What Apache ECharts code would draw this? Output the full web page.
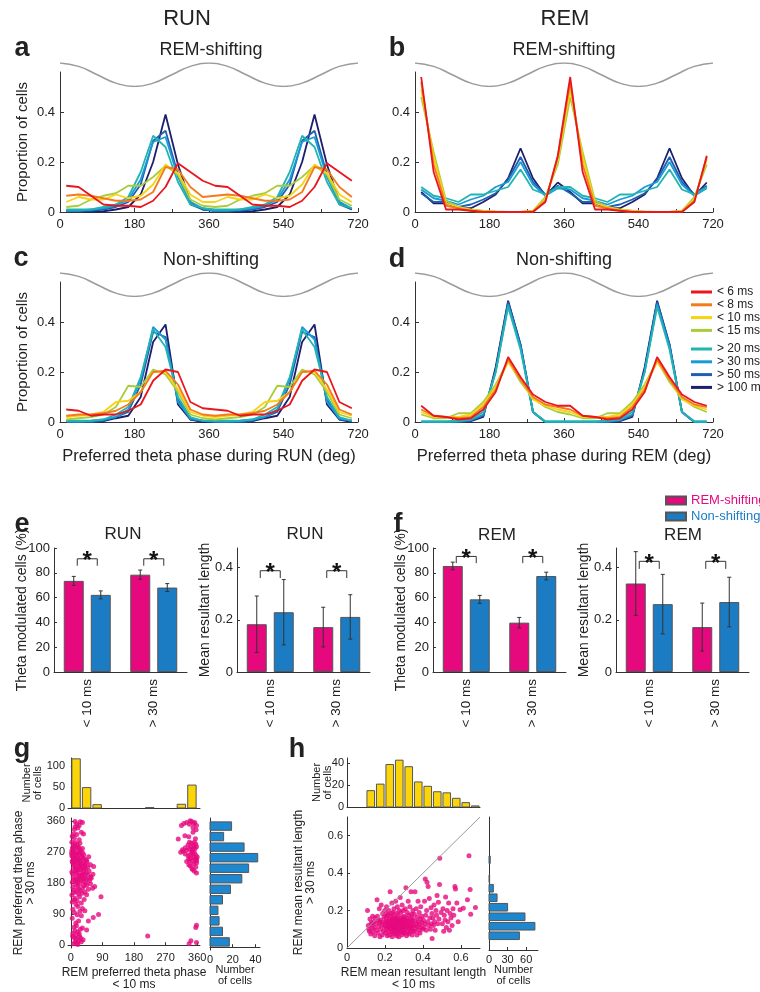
<!DOCTYPE html>
<html>
<head>
<meta charset="utf-8">
<script src="https://cdn.jsdelivr.net/npm/echarts@6/dist/echarts.min.js"></script>
<style>
html, body { margin: 0; padding: 0; background: #fff; }
#chart { width: 760px; height: 992px; }
</style>
</head>
<body>
<div id="chart"></div>
<script>
const FONT = "'Liberation Sans', Arial, Helvetica, sans-serif";
const INK = '#222';
const AXIS = '#333';
const PINK = '#e6097e';
const BLUE = '#1b7cc4';
const YELLOW = '#fcd40a';
const HISTBLUE = '#1d87d0';

// ---- panels a-d : preferred theta phase histograms ----
const phaseBins = [15, 45, 75, 105, 135, 165, 195, 225, 255, 285, 315, 345,
  375, 405, 435, 465, 495, 525, 555, 585, 615, 645, 675, 705];
// reference theta wave (peak at 0/360/720)
const thetaPhase = [0, 45, 90, 135, 180, 225, 270, 315, 360, 405, 450, 495, 540, 585, 630, 675, 720];
const thetaWave = [1, 0.71, 0, -0.71, -1, -0.71, 0, 0.71, 1, 0.71, 0, -0.71, -1, -0.71, 0, 0.71, 1];
const speedLabels = ['< 6 ms', '< 8 ms', '< 10 ms', '< 15 ms', '> 20 ms', '> 30 ms', '> 50 ms', '> 100 ms'];
const speedColors = ['#e8161d', '#f47a20', '#f8d313', '#a9cd3a', '#22b5b0', '#1a9bd8', '#1f5eb1', '#1c1f6b'];

// one row per speed class, one value per 30 deg bin (15..345), shown over two cycles
const runShifting = [
  [0.105, 0.10, 0.065, 0.03, 0.025, 0.025, 0.02, 0.045, 0.10, 0.195, 0.16, 0.125],
  [0.065, 0.07, 0.065, 0.055, 0.045, 0.045, 0.05, 0.08, 0.18, 0.17, 0.10, 0.06],
  [0.04, 0.06, 0.05, 0.05, 0.07, 0.055, 0.065, 0.11, 0.19, 0.155, 0.07, 0.04],
  [0.02, 0.025, 0.05, 0.065, 0.075, 0.105, 0.105, 0.14, 0.185, 0.15, 0.05, 0.025],
  [0.01, 0.01, 0.01, 0.02, 0.03, 0.06, 0.16, 0.305, 0.26, 0.12, 0.03, 0.015],
  [0.005, 0.005, 0.01, 0.015, 0.025, 0.05, 0.13, 0.28, 0.30, 0.14, 0.04, 0.015],
  [0.005, 0.005, 0.005, 0.01, 0.02, 0.04, 0.11, 0.285, 0.325, 0.15, 0.03, 0.01],
  [0.005, 0.005, 0, 0.003, 0.01, 0.02, 0.07, 0.20, 0.39, 0.19, 0.04, 0.01]
];
const remShifting = [
  [0.54, 0.16, 0.01, 0.01, 0.005, 0, 0, 0, 0, 0, 0.04, 0.225],
  [0.52, 0.19, 0.025, 0.015, 0.005, 0, 0, 0, 0, 0.002, 0.045, 0.22],
  [0.49, 0.22, 0.035, 0.02, 0.008, 0.003, 0, 0, 0, 0.003, 0.05, 0.21],
  [0.46, 0.24, 0.045, 0.02, 0.01, 0.005, 0.002, 0, 0, 0.005, 0.06, 0.19],
  [0.10, 0.065, 0.055, 0.04, 0.07, 0.07, 0.085, 0.10, 0.17, 0.09, 0.07, 0.10],
  [0.09, 0.055, 0.045, 0.03, 0.05, 0.065, 0.10, 0.12, 0.20, 0.11, 0.065, 0.095],
  [0.075, 0.04, 0.04, 0.02, 0.03, 0.05, 0.075, 0.13, 0.22, 0.12, 0.07, 0.105],
  [0.08, 0.035, 0.035, 0.015, 0.015, 0.04, 0.07, 0.135, 0.255, 0.135, 0.065, 0.118]
];
const runNonShifting = [
  [0.05, 0.045, 0.025, 0.03, 0.03, 0.045, 0.07, 0.165, 0.21, 0.20, 0.08, 0.055],
  [0.025, 0.03, 0.03, 0.035, 0.045, 0.07, 0.12, 0.20, 0.205, 0.15, 0.05, 0.03],
  [0.02, 0.025, 0.03, 0.04, 0.08, 0.085, 0.12, 0.20, 0.20, 0.13, 0.04, 0.025],
  [0.01, 0.015, 0.02, 0.03, 0.06, 0.145, 0.14, 0.21, 0.19, 0.12, 0.03, 0.015],
  [0.005, 0.005, 0.005, 0.01, 0.03, 0.06, 0.18, 0.37, 0.30, 0.10, 0.02, 0.005],
  [0.003, 0.002, 0.005, 0.01, 0.02, 0.05, 0.17, 0.38, 0.33, 0.08, 0.015, 0.005],
  [0, 0, 0, 0.005, 0.02, 0.04, 0.15, 0.36, 0.34, 0.09, 0.01, 0.005],
  [0, 0, 0, 0.003, 0.015, 0.025, 0.10, 0.32, 0.39, 0.07, 0.01, 0]
];
const remNonShifting = [
  [0.065, 0.025, 0.02, 0.01, 0.015, 0.05, 0.12, 0.26, 0.18, 0.11, 0.08, 0.065],
  [0.05, 0.025, 0.02, 0.015, 0.02, 0.06, 0.13, 0.25, 0.17, 0.10, 0.07, 0.06],
  [0.04, 0.02, 0.02, 0.02, 0.03, 0.07, 0.14, 0.24, 0.17, 0.09, 0.065, 0.05],
  [0.03, 0.015, 0.015, 0.035, 0.035, 0.08, 0.15, 0.245, 0.16, 0.095, 0.06, 0.04],
  [0.003, 0.003, 0.003, 0.005, 0.01, 0.04, 0.20, 0.46, 0.29, 0.04, 0.003, 0.003],
  [0, 0, 0, 0.003, 0.008, 0.03, 0.20, 0.47, 0.30, 0.04, 0, 0],
  [0, 0, 0, 0, 0.005, 0.025, 0.21, 0.48, 0.31, 0.04, 0, 0],
  [0, 0, 0, 0, 0.003, 0.02, 0.22, 0.485, 0.31, 0.04, 0, 0]
];

// ---- panels e-f : bar charts ----
const barCategories = ['< 10 ms', '> 30 ms'];
const runPctShift = [73.5, 78.5], runPctShiftErr = [3.6, 3.7];
const runPctNon = [62.2, 68.1], runPctNonErr = [3.2, 3.2];
const runMrlShift = [0.183, 0.172], runMrlShiftErr = [0.108, 0.076];
const runMrlNon = [0.229, 0.211], runMrlNonErr = [0.125, 0.085];
const remPctShift = [85.5, 39.8], remPctShiftErr = [3.1, 4.2];
const remPctNon = [58.6, 77.4], remPctNonErr = [3.2, 3.1];
const remMrlShift = [0.339, 0.172], remMrlShiftErr = [0.122, 0.092];
const remMrlNon = [0.26, 0.268], remMrlNonErr = [0.114, 0.095];
// significance brackets [top, leg end] per category
const runPctBracket = [[91.3, 85.7], [91.3, 85.7]];
const runMrlBracket = [[0.388, 0.36], [0.388, 0.36]];
const remPctBracket = [[93.2, 87.8], [93.2, 87.8]];
const remMrlBracket = [[0.424, 0.395], [0.424, 0.395]];

// ---- panel g : REM preferred phase, <10 ms vs >30 ms ----
const phaseEdges = [0, 30, 60, 90, 120, 150, 180, 210, 240, 270, 300, 330, 360];
const gShortCounts = [118, 49, 8, 0, 0, 0, 0, 1, 0, 0, 9, 55];
const gLongCounts = [17, 11, 8, 7, 11, 18, 28, 34, 42, 30, 12, 19];
const gPoints = [
  [8, 4], [12, 9], [18, 6], [22, 14], [15, 18], [10, 22], [25, 25], [5, 27], [30, 10], [20, 2], [14, 28], [28, 20], [35, 16], [219, 27],
  [6, 35], [12, 42], [20, 38], [27, 46], [9, 52], [16, 56], [24, 33], [33, 50], [45, 44],
  [14, 64], [22, 70], [4, 78], [50, 70], [64, 80], [79, 89], [30, 85], [18, 88],
  [10, 95], [26, 98], [33, 106], [20, 112], [15, 118], [40, 100], [6, 104],
  [4, 125], [18, 128], [30, 122], [12, 136], [25, 140], [38, 132], [3, 145], [86, 140], [45, 146], [22, 148], [10, 131],
  [8, 152], [16, 155], [28, 158], [40, 154], [50, 162], [62, 165], [6, 168], [20, 170], [34, 166], [14, 176], [26, 178], [45, 174],
  [56, 178], [68, 170], [10, 160], [38, 172], [22, 163], [32, 150],
  [4, 182], [13, 186], [19, 181], [29, 189], [35, 184], [46, 191], [53, 187], [58, 194], [7, 196], [17, 199], [23, 192], [33, 201],
  [41, 195], [49, 204], [57, 198], [5, 207], [14, 209], [24, 203], [31, 208], [39, 205], [44, 210], [63, 205], [19, 188], [27, 200],
  [11, 190], [35, 193], [42, 181],
  [3, 212], [12, 216], [18, 213], [28, 219], [36, 214], [42, 221], [52, 215], [8, 225], [15, 222], [24, 228], [31, 224], [40, 229],
  [48, 226], [56, 233], [9, 235], [18, 237], [26, 231], [34, 238], [41, 234], [5, 239], [13, 229], [21, 218], [29, 234], [38, 223],
  [65, 228], [46, 240],
  [4, 243], [10, 246], [17, 242], [22, 249], [29, 245], [35, 252], [41, 248], [6, 256], [13, 258], [19, 253], [25, 261], [31, 257],
  [37, 262], [2, 266], [8, 268], [15, 263], [21, 266], [27, 269], [45, 246], [51, 256], [33, 268], [11, 251], [24, 244], [3, 259],
  [3, 274], [9, 279], [15, 272], [21, 281], [27, 276], [12, 286], [22, 284], [8, 289], [3, 298], [12, 297], [18, 292], [33, 280],
  [5, 283], [26, 295],
  [8, 322], [17, 320], [36, 322], [10, 310], [24, 305], [4, 315], [30, 327],
  [12, 343], [24, 346], [17, 351], [12, 358], [27, 357], [33, 355], [10, 335], [20, 339],
  [337, 4], [342, 13], [358, 8], [356, 51], [358, 58], [358, 209],
  [352, 214], [345, 222], [356, 226], [340, 230], [350, 235], [358, 238], [347, 219], [336, 233],
  [330, 242], [338, 245], [346, 243], [354, 248], [342, 252], [350, 256], [358, 250], [334, 259], [340, 262], [348, 265],
  [356, 260], [352, 268], [344, 270], [336, 250], [360, 255], [313, 269], [326, 264], [358, 244],
  [320, 272], [330, 275], [338, 278], [346, 274], [354, 280], [342, 284], [350, 288], [358, 285], [334, 290], [344, 295],
  [352, 298], [326, 282], [356, 292], [338, 298], [348, 278], [318, 276],
  [306, 307], [325, 317], [336, 314], [348, 327], [355, 308],
  [315, 346], [330, 355], [344, 358], [353, 355], [358, 346], [338, 350], [348, 340], [322, 352], [357, 334], [340, 360], [350, 352]
];

// ---- panel h : REM mean resultant length, <10 ms vs >30 ms ----
const mrlEdges = [0, 0.05, 0.1, 0.15, 0.2, 0.25, 0.3, 0.35, 0.4, 0.45, 0.5, 0.55, 0.6, 0.65, 0.7];
const hShortCounts = [0, 0, 15, 21, 39, 43, 37, 23, 19, 14, 13, 8, 4, 1];
const hLongCounts = [0, 49, 74, 58, 30, 13, 7, 1, 0, 2, 0, 0, 0, 0];
const identityLine = [[0, 0], [0.7, 0.7]];
const hPoints = [
  [0.108, 0.201], [0.112, 0.12], [0.118, 0.09], [0.121, 0.155], [0.125, 0.075], [0.128, 0.135], [0.132, 0.105], [0.135, 0.17],
  [0.138, 0.085], [0.141, 0.14], [0.144, 0.11], [0.146, 0.065], [0.148, 0.16], [0.115, 0.1], [0.13, 0.125],
  [0.152, 0.13], [0.155, 0.095], [0.158, 0.258], [0.16, 0.17], [0.163, 0.08], [0.165, 0.145], [0.168, 0.115], [0.17, 0.21],
  [0.173, 0.06], [0.176, 0.15], [0.178, 0.1], [0.18, 0.23], [0.183, 0.125], [0.185, 0.07], [0.188, 0.185], [0.19, 0.14],
  [0.192, 0.09], [0.195, 0.165], [0.197, 0.115], [0.199, 0.2], [0.172, 0.135],
  [0.201, 0.12], [0.203, 0.08], [0.205, 0.16], [0.207, 0.1], [0.208, 0.22], [0.21, 0.135], [0.212, 0.065], [0.214, 0.18],
  [0.215, 0.11], [0.217, 0.145], [0.219, 0.09], [0.22, 0.2], [0.222, 0.125], [0.224, 0.07], [0.225, 0.155], [0.227, 0.3],
  [0.228, 0.105], [0.23, 0.17], [0.232, 0.085], [0.233, 0.14], [0.235, 0.115], [0.236, 0.24], [0.238, 0.06], [0.239, 0.15],
  [0.241, 0.1], [0.242, 0.19], [0.243, 0.13], [0.244, 0.08], [0.245, 0.165], [0.246, 0.11], [0.247, 0.21], [0.248, 0.145],
  [0.249, 0.095], [0.204, 0.14], [0.211, 0.175], [0.218, 0.115], [0.226, 0.13], [0.234, 0.185], [0.24, 0.12],
  [0.251, 0.13], [0.252, 0.075], [0.253, 0.16], [0.254, 0.105], [0.256, 0.25], [0.257, 0.12], [0.258, 0.09], [0.259, 0.185],
  [0.26, 0.14], [0.262, 0.065], [0.263, 0.155], [0.264, 0.11], [0.265, 0.22], [0.267, 0.13], [0.268, 0.08], [0.269, 0.175],
  [0.27, 0.1], [0.272, 0.145], [0.273, 0.06], [0.274, 0.2], [0.275, 0.125], [0.277, 0.09], [0.278, 0.16], [0.279, 0.115],
  [0.28, 0.27], [0.282, 0.14], [0.283, 0.085], [0.284, 0.19], [0.285, 0.105], [0.287, 0.15], [0.288, 0.07], [0.289, 0.13],
  [0.29, 0.23], [0.292, 0.11], [0.293, 0.165], [0.294, 0.095], [0.295, 0.14], [0.296, 0.2], [0.297, 0.12], [0.298, 0.08],
  [0.299, 0.155], [0.266, 0.15], [0.286, 0.125],
  [0.301, 0.11], [0.302, 0.17], [0.304, 0.08], [0.305, 0.14], [0.307, 0.21], [0.308, 0.1], [0.31, 0.322], [0.311, 0.13],
  [0.313, 0.065], [0.314, 0.16], [0.316, 0.115], [0.317, 0.19], [0.319, 0.09], [0.32, 0.145], [0.322, 0.25], [0.323, 0.12],
  [0.325, 0.075], [0.326, 0.175], [0.328, 0.105], [0.329, 0.14], [0.331, 0.22], [0.332, 0.085], [0.334, 0.155], [0.335, 0.125],
  [0.337, 0.3], [0.338, 0.1], [0.34, 0.18], [0.341, 0.135], [0.343, 0.07], [0.344, 0.16], [0.346, 0.115], [0.347, 0.2],
  [0.349, 0.09], [0.306, 0.15], [0.318, 0.13], [0.333, 0.11], [0.345, 0.145],
  [0.352, 0.12], [0.354, 0.18], [0.356, 0.09], [0.358, 0.3], [0.36, 0.145], [0.362, 0.105], [0.364, 0.21], [0.366, 0.13],
  [0.368, 0.07], [0.37, 0.165], [0.372, 0.115], [0.374, 0.25], [0.376, 0.14], [0.378, 0.095], [0.38, 0.19], [0.382, 0.125],
  [0.384, 0.08], [0.386, 0.155], [0.388, 0.22], [0.39, 0.11], [0.393, 0.17], [0.396, 0.135], [0.398, 0.1],
  [0.402, 0.15], [0.405, 0.11], [0.408, 0.25], [0.41, 0.13], [0.412, 0.369], [0.414, 0.175], [0.417, 0.095], [0.419, 0.2],
  [0.421, 0.352], [0.424, 0.14], [0.427, 0.329], [0.43, 0.12], [0.433, 0.265], [0.436, 0.16], [0.439, 0.1], [0.442, 0.215],
  [0.445, 0.13], [0.447, 0.185], [0.448, 0.051],
  [0.452, 0.16], [0.455, 0.12], [0.458, 0.23], [0.461, 0.14], [0.464, 0.095], [0.468, 0.2], [0.471, 0.175], [0.474, 0.28],
  [0.478, 0.13], [0.481, 0.245], [0.484, 0.155], [0.487, 0.339], [0.488, 0.479], [0.495, 0.19],
  [0.502, 0.13], [0.505, 0.21], [0.509, 0.09], [0.512, 0.175], [0.516, 0.15], [0.519, 0.272], [0.523, 0.11], [0.527, 0.2],
  [0.531, 0.14], [0.535, 0.24], [0.539, 0.095], [0.543, 0.185], [0.547, 0.16],
  [0.553, 0.12], [0.558, 0.21], [0.562, 0.175], [0.568, 0.329], [0.571, 0.315], [0.578, 0.24], [0.585, 0.14], [0.595, 0.205],
  [0.612, 0.213], [0.634, 0.258], [0.642, 0.493], [0.648, 0.313], [0.651, 0.18], [0.676, 0.216]
];

const chart = echarts.init(document.getElementById('chart'));
const grids = [], xAxes = [], yAxes = [], series = [];

function addGrid(box, xa, ya) {
  const i = grids.length;
  grids.push(box);
  xAxes.push(Object.assign({ gridIndex: i }, xa));
  yAxes.push(Object.assign({ gridIndex: i }, ya));
  return i;
}

function valueAxis(o) {
  return {
    type: 'value', min: o.min, max: o.max, interval: o.interval,
    axisLine: { show: true, lineStyle: { color: AXIS, width: 1 } },
    axisTick: { show: o.ticks !== false, inside: true, length: o.tickLen || 3, customValues: o.values, lineStyle: { color: AXIS } },
    minorTick: { show: !!o.minor, splitNumber: 2, length: 3, lineStyle: { color: AXIS } },
    axisLabel: { show: o.labels !== false, customValues: o.values, color: INK, fontFamily: FONT, fontSize: o.size || 13, margin: o.margin || 5 },
    splitLine: { show: false },
    name: o.name || '', nameLocation: 'middle', nameGap: o.nameGap, nameRotate: o.nameRotate, nameMoveOverlap: false,
    nameTextStyle: { color: INK, fontFamily: FONT, fontSize: o.nameSize || 15, lineHeight: o.nameLH }
  };
}
const hiddenAxis = (min, max) => ({ type: 'value', min: min, max: max, show: false });

// panels a-d
const phasePanels = [
  { rows: runShifting, left: 60, top: 72, yName: 'Proportion of cells' },
  { rows: remShifting, left: 415, top: 72 },
  { rows: runNonShifting, left: 60, top: 282, yName: 'Proportion of cells', xName: 'Preferred theta phase during RUN (deg)' },
  { rows: remNonShifting, left: 415, top: 282, xName: 'Preferred theta phase during REM (deg)' }
];
const drawOrder = [7, 6, 5, 4, 3, 2, 1, 0];
phasePanels.forEach(p => {
  const w = addGrid({ left: p.left, top: p.top - 9, width: 298, height: 23.5 }, hiddenAxis(0, 720), hiddenAxis(-1, 1));
  series.push({
    type: 'line', xAxisIndex: w, yAxisIndex: w, smooth: true, showSymbol: false, silent: true,
    lineStyle: { color: '#9b9b9b', width: 1.5 }, data: thetaPhase.map((x, i) => [x, thetaWave[i]])
  });
  const g = addGrid({ left: p.left, top: p.top, width: 298, height: 140 },
    valueAxis({ min: 0, max: 720, interval: 180, margin: 6, tickLen: 4, minor: true, name: p.xName, nameGap: 26, nameSize: 16.5 }),
    valueAxis({ min: 0, max: 0.56, values: [0, 0.2, 0.4], tickLen: 4, name: p.yName, nameGap: 30, nameRotate: 90 }));
  drawOrder.forEach(k => {
    const full = p.rows[k].concat(p.rows[k]);
    series.push({
      type: 'line', name: speedLabels[k], xAxisIndex: g, yAxisIndex: g, showSymbol: false, silent: true,
      color: speedColors[k], lineStyle: { width: 1.8 }, data: phaseBins.map((x, i) => [x, full[i]])
    });
  });
});

// panels e-f
const pctTicks = [0, 20, 40, 60, 80, 100];
const mrlTicks = [0, 0.2, 0.4];
const barPanels = [
  { left: 54, a: runPctShift, ae: runPctShiftErr, b: runPctNon, be: runPctNonErr, max: 100, ticks: pctTicks, br: runPctBracket, name: 'Theta modulated cells (%)', gap: 25 },
  { left: 237, a: runMrlShift, ae: runMrlShiftErr, b: runMrlNon, be: runMrlNonErr, max: 0.475, ticks: mrlTicks, br: runMrlBracket, name: 'Mean resultant length', gap: 25 },
  { left: 433, a: remPctShift, ae: remPctShiftErr, b: remPctNon, be: remPctNonErr, max: 100, ticks: pctTicks, br: remPctBracket, name: 'Theta modulated cells (%)', gap: 25 },
  { left: 616, a: remMrlShift, ae: remMrlShiftErr, b: remMrlNon, be: remMrlNonErr, max: 0.475, ticks: mrlTicks, br: remMrlBracket, name: 'Mean resultant length', gap: 25 }
];
barPanels.forEach(p => {
  const g = addGrid({ left: p.left, top: 548, width: 133, height: 124 },
    {
      type: 'category', data: barCategories,
      axisLine: { show: true, lineStyle: { color: AXIS } }, axisTick: { show: false },
      axisLabel: { rotate: 90, color: INK, fontFamily: FONT, fontSize: 13.5, margin: 7 }
    },
    valueAxis({ min: 0, max: p.max, values: p.ticks, margin: 4, name: p.name, nameGap: p.gap, nameRotate: 90, nameSize: 14 }));
  const groups = [[p.a, p.ae, PINK, 'REM-shifting', -13.5], [p.b, p.be, BLUE, 'Non-shifting', 13.5]];
  groups.forEach(([vals, errs, col, nm]) => {
    series.push({
      type: 'bar', name: nm, xAxisIndex: g, yAxisIndex: g, data: vals, barWidth: 20, barGap: '35%', silent: true,
      itemStyle: { color: col, borderColor: '#555', borderWidth: 1 }
    });
  });
  groups.forEach(([vals, errs, col, nm, off]) => {
    series.push({
      type: 'custom', xAxisIndex: g, yAxisIndex: g, silent: true, z: 5,
      data: vals.map((v, i) => [i, v - errs[i], v + errs[i]]), encode: { x: 0, y: [1, 2] },
      renderItem: (params, api) => {
        const lo = api.coord([api.value(0), api.value(1)]);
        const hi = api.coord([api.value(0), api.value(2)]);
        const x = lo[0] + off;
        const st = { stroke: '#333', lineWidth: 1 };
        return {
          type: 'group', children: [
            { type: 'line', shape: { x1: x, y1: lo[1], x2: x, y2: hi[1] }, style: st },
            { type: 'line', shape: { x1: x - 2, y1: lo[1], x2: x + 2, y2: lo[1] }, style: st },
            { type: 'line', shape: { x1: x - 2, y1: hi[1], x2: x + 2, y2: hi[1] }, style: st }
          ]
        };
      }
    });
  });
  series.push({
    type: 'custom', xAxisIndex: g, yAxisIndex: g, silent: true, z: 5,
    data: p.br.map((b, i) => [i, b[0], b[1]]), encode: { x: 0, y: [1, 2] },
    renderItem: (params, api) => {
      const t = api.coord([api.value(0), api.value(1)]);
      const l = api.coord([api.value(0), api.value(2)]);
      const cx = t[0];
      return {
        type: 'group', children: [
          { type: 'polyline', shape: { points: [[cx - 10, l[1]], [cx - 10, t[1]], [cx + 10, t[1]], [cx + 10, l[1]]] }, style: { stroke: '#333', lineWidth: 1, fill: 'none' } },
          { type: 'text', style: { text: '*', x: cx, y: t[1] + 3, align: 'center', verticalAlign: 'middle', font: 'bold 24px ' + FONT, fill: '#111' } }
        ]
      };
    }
  });
});

// histogram renderers (bars are 80% of the bin width)
function vHist(color) {
  return (params, api) => {
    const lo = api.value(0), hi = api.value(1), n = api.value(2), w = hi - lo;
    if (!n) return null;
    const p0 = api.coord([lo + w * 0.1, n]);
    const p1 = api.coord([hi - w * 0.1, 0]);
    return { type: 'rect', shape: { x: p0[0], y: p0[1], width: p1[0] - p0[0], height: p1[1] - p0[1] }, style: { fill: color, stroke: '#555', lineWidth: 1 } };
  };
}
function hHist(color) {
  return (params, api) => {
    const lo = api.value(0), hi = api.value(1), n = api.value(2), w = hi - lo;
    if (!n) return null;
    const p0 = api.coord([0, hi - w * 0.1]);
    const p1 = api.coord([n, lo + w * 0.1]);
    return { type: 'rect', shape: { x: p0[0], y: p0[1], width: p1[0] - p0[0], height: p1[1] - p0[1] }, style: { fill: color, stroke: '#555', lineWidth: 1 } };
  };
}
const binData = (edges, counts) => counts.map((c, i) => [edges[i], edges[i + 1], c]);

// panel g
const gRange = [-8, 368];
const gTicks = [0, 90, 180, 270, 360];
let gi = addGrid({ left: 68, top: 758, width: 132, height: 50 },
  valueAxis({ min: gRange[0], max: gRange[1], ticks: false, labels: false }),
  valueAxis({ min: 0, max: 120, values: [0, 50, 100], size: 11, margin: 3, name: 'Number\nof cells', nameGap: 25, nameRotate: 90, nameSize: 11, nameLH: 11 }));
series.push({ type: 'custom', xAxisIndex: gi, yAxisIndex: gi, silent: true, data: binData(phaseEdges, gShortCounts), encode: { x: [0, 1], y: 2 }, renderItem: vHist(YELLOW) });
gi = addGrid({ left: 68, top: 818, width: 132, height: 132 },
  valueAxis({ min: gRange[0], max: gRange[1], values: gTicks, size: 11, margin: 4, name: 'REM preferred theta phase\n< 10 ms', nameGap: 19, nameSize: 12, nameLH: 12 }),
  valueAxis({ min: gRange[0], max: gRange[1], values: gTicks, size: 11, margin: 3, name: 'REM preferred theta phase\n> 30 ms', nameGap: 31, nameRotate: 90, nameSize: 12, nameLH: 12 }));
series.push({ type: 'scatter', xAxisIndex: gi, yAxisIndex: gi, silent: true, symbolSize: 5, itemStyle: { color: PINK }, data: gPoints });
gi = addGrid({ left: 210, top: 818, width: 50, height: 132 },
  valueAxis({ min: 0, max: 44, values: [0, 20, 40], size: 11, margin: 4, name: 'Number\nof cells', nameGap: 14, nameSize: 11, nameLH: 11 }),
  valueAxis({ min: gRange[0], max: gRange[1], ticks: false, labels: false }));
series.push({ type: 'custom', xAxisIndex: gi, yAxisIndex: gi, silent: true, data: binData(phaseEdges, gLongCounts), encode: { y: [0, 1], x: 2 }, renderItem: hHist(HISTBLUE) });

// panel h
const hTicks = [0, 0.2, 0.4, 0.6];
let hi = addGrid({ left: 347, top: 758, width: 133, height: 49 },
  valueAxis({ min: 0, max: 0.7, ticks: false, labels: false }),
  valueAxis({ min: 0, max: 45, values: [0, 20, 40], size: 11, margin: 3, name: 'Number\nof cells', nameGap: 14, nameRotate: 90, nameSize: 11, nameLH: 11 }));
series.push({ type: 'custom', xAxisIndex: hi, yAxisIndex: hi, silent: true, data: binData(mrlEdges, hShortCounts), encode: { x: [0, 1], y: 2 }, renderItem: vHist(YELLOW) });
hi = addGrid({ left: 347, top: 817, width: 133, height: 133 },
  valueAxis({ min: 0, max: 0.7, values: hTicks, size: 11, margin: 4, name: 'REM mean resultant length\n< 10 ms', nameGap: 19, nameSize: 12, nameLH: 12 }),
  valueAxis({ min: 0, max: 0.7, values: hTicks, size: 11, margin: 4, name: 'REM mean resultant length\n> 30 ms', nameGap: 30, nameRotate: 90, nameSize: 12, nameLH: 12 }));
series.push({ type: 'line', xAxisIndex: hi, yAxisIndex: hi, silent: true, showSymbol: false, lineStyle: { color: '#999', width: 1 }, data: identityLine });
series.push({ type: 'scatter', xAxisIndex: hi, yAxisIndex: hi, silent: true, symbolSize: 5, itemStyle: { color: PINK }, data: hPoints });
hi = addGrid({ left: 489, top: 817, width: 49, height: 133 },
  valueAxis({ min: 0, max: 79, values: [0, 30, 60], size: 11, margin: 4, name: 'Number\nof cells', nameGap: 14, nameSize: 11, nameLH: 11 }),
  valueAxis({ min: 0, max: 0.7, ticks: false, labels: false }));
series.push({ type: 'custom', xAxisIndex: hi, yAxisIndex: hi, silent: true, data: binData(mrlEdges, hLongCounts), encode: { y: [0, 1], x: 2 }, renderItem: hHist(HISTBLUE) });

// static texts
function txt(text, x, y, size, weight) {
  return { type: 'text', silent: true, style: { text: text, x: x, y: y, align: 'center', verticalAlign: 'middle', font: (weight || 'normal') + ' ' + size + 'px ' + FONT, fill: INK } };
}
const graphics = [
  txt('RUN', 187, 19, 22), txt('REM', 565, 19, 22),
  txt('a', 22, 48.5, 27, 'bold'), txt('b', 397, 48.5, 27, 'bold'),
  txt('c', 21, 258.5, 27, 'bold'), txt('d', 397, 259.5, 27, 'bold'),
  txt('e', 22, 524.5, 27, 'bold'), txt('f', 398, 524.5, 27, 'bold'),
  txt('g', 22, 749.5, 27, 'bold'), txt('h', 297, 749.5, 27, 'bold'),
  txt('REM-shifting', 211, 50.5, 18), txt('REM-shifting', 564, 50.5, 18),
  txt('Non-shifting', 211, 260, 18), txt('Non-shifting', 564, 260, 18),
  txt('RUN', 123, 534, 17), txt('RUN', 305, 534, 17),
  txt('REM', 497, 535.5, 17), txt('REM', 683, 535.5, 17)
];

const speedLegend = (names, top) => ({
  data: names, orient: 'vertical', left: 691, top: top, padding: 0, icon: 'rect', itemWidth: 21, itemHeight: 3, itemGap: 0.8,
  selectedMode: false, textStyle: { color: INK, fontFamily: FONT, fontSize: 12, lineHeight: 12 }
});

chart.setOption({
  animation: false,
  backgroundColor: '#fff',
  grid: grids,
  xAxis: xAxes,
  yAxis: yAxes,
  series: series,
  graphic: graphics,
  legend: [
    speedLegend(speedLabels.slice(0, 4), 286),
    speedLegend(speedLabels.slice(4), 343),
    {
      data: [{ name: 'REM-shifting', textStyle: { color: PINK } }, { name: 'Non-shifting', textStyle: { color: BLUE } }],
      orient: 'vertical', left: 665, top: 494, padding: 0, icon: 'rect', itemWidth: 20, itemHeight: 8, itemGap: 3,
      selectedMode: false, textStyle: { fontFamily: FONT, fontSize: 13, lineHeight: 13 }
    }
  ]
});
</script>
</body>
</html>
